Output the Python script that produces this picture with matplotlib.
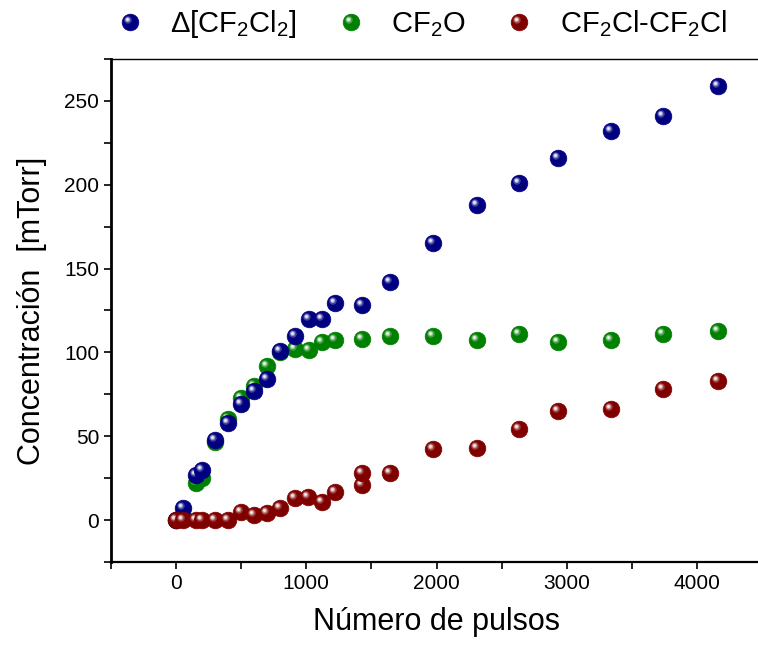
import numpy as np
import matplotlib
matplotlib.use("Agg")
import matplotlib.pyplot as plt
from matplotlib.path import Path
from matplotlib.ticker import MultipleLocator
from matplotlib.legend_handler import HandlerTuple

plt.rcParams['font.family'] = ['Liberation Sans', 'DejaVu Sans']
plt.rcParams['mathtext.default'] = 'regular'

# data
x_cf2cl2 = [0, 50, 150, 200, 300, 400, 500, 600, 700, 800, 910, 1020, 1120, 1220,
            1430, 1640, 1970, 2310, 2630, 2930, 3340, 3740, 4160]
y_cf2cl2 = [0, 7, 27, 30, 48, 58, 69, 77, 84, 101, 110, 120, 120, 129.5,
            128.5, 142, 165, 188, 201, 216, 232, 241, 259]

x_cf2o = [0, 50, 150, 200, 300, 400, 500, 600, 700, 800, 910, 1020, 1120, 1220,
          1430, 1640, 1970, 2310, 2630, 2930, 3340, 3740, 4160]
y_cf2o = [0, 1, 22, 25, 46.5, 60, 73, 80, 92, 100, 102, 101.5, 106, 107.5,
          108, 109.5, 110, 107.5, 111, 106.5, 107.5, 111, 112.5]

x_c2f4cl2 = [0, 50, 150, 200, 300, 400, 500, 600, 700, 800, 910, 1010, 1120, 1220,
             1430, 1430, 1640, 1970, 2310, 2630, 2930, 3340, 3740, 4160]
y_c2f4cl2 = [0, 0, 0, 0, 0, 0, 5, 3, 4, 7.5, 13, 13.5, 10.5, 17,
             21, 28, 28, 42.5, 43, 54.5, 65, 66, 78, 83]

labels = [r'$\Delta$[CF$_2$Cl$_2$]', 'CF$_2$O', 'CF$_2$Cl-CF$_2$Cl']
colors = ['#000080', '#008000', '#800000']
layers = [3, 2, 4]  # green sits under blue, red on top


def spot(cx, cy, r):
    # small circle inside a unit box so the marker keeps the same scale as 'o'
    c = Path.circle((cx, cy), r)
    box = Path([(-1, -1), (1, 1)], [Path.MOVETO, Path.MOVETO])
    return Path.make_compound_path(box, c)


def mix(c, f):
    rgb = np.array(matplotlib.colors.to_rgb(c))
    return tuple(rgb + (1 - rgb) * f)


glow = spot(-0.3, 0.3, 0.45)
mid = spot(-0.34, 0.34, 0.3)
shine = spot(-0.36, 0.36, 0.17)

fig = plt.figure(figsize=(7.58, 6.51), dpi=100)
ax = fig.add_axes([111 / 758, 1 - 562 / 651, 651 / 758, 503 / 651])

ms = 12
handles = []
for xs, ys, c, z in zip([x_cf2cl2, x_cf2o, x_c2f4cl2], [y_cf2cl2, y_cf2o, y_c2f4cl2], colors, layers):
    # each point drawn as a whole sphere so overlaps look right
    group = []
    for xv, yv in zip(xs, ys):
        h1, = ax.plot(xv, yv, 'o', ms=ms, color=c, mec=c, mew=0.5, ls='none', zorder=z)
        h2, = ax.plot(xv, yv, marker=glow, ms=ms, color=mix(c, 0.25), mew=0, ls='none', zorder=z)
        h3, = ax.plot(xv, yv, marker=mid, ms=ms, color=mix(c, 0.6), mew=0, ls='none', zorder=z)
        h4, = ax.plot(xv, yv, marker=shine, ms=ms, color=mix(c, 0.92), mew=0, ls='none', zorder=z)
        group = (h1, h2, h3, h4)
    handles.append(group)

ax.set_xlim(-500, 4500)
ax.set_ylim(-25, 275)
ax.xaxis.set_major_locator(MultipleLocator(1000))
ax.xaxis.set_minor_locator(MultipleLocator(500))
ax.yaxis.set_major_locator(MultipleLocator(50))
ax.yaxis.set_minor_locator(MultipleLocator(25))
ax.tick_params(which='both', direction='out', length=5, width=1.2, labelsize=15)
ax.tick_params(top=False, right=False)

ax.spines['left'].set_linewidth(2)
ax.spines['bottom'].set_linewidth(1.6)
ax.spines['top'].set_linewidth(1)
ax.spines['right'].set_visible(False)

ax.set_xlabel('Número de pulsos', fontsize=22, labelpad=10)
ax.set_ylabel('Concentración  [mTorr]', fontsize=22, labelpad=12)

fig.legend(handles, labels, handler_map={tuple: HandlerTuple(ndivide=1)},
           loc='center left', bbox_to_anchor=(115 / 758, 1 - 24 / 651),
           ncol=3, frameon=False, fontsize=21, numpoints=1,
           handlelength=1.0, handletextpad=0.9, columnspacing=1.33,
           borderpad=0, borderaxespad=0)

fig.savefig('out.png', dpi=100)
